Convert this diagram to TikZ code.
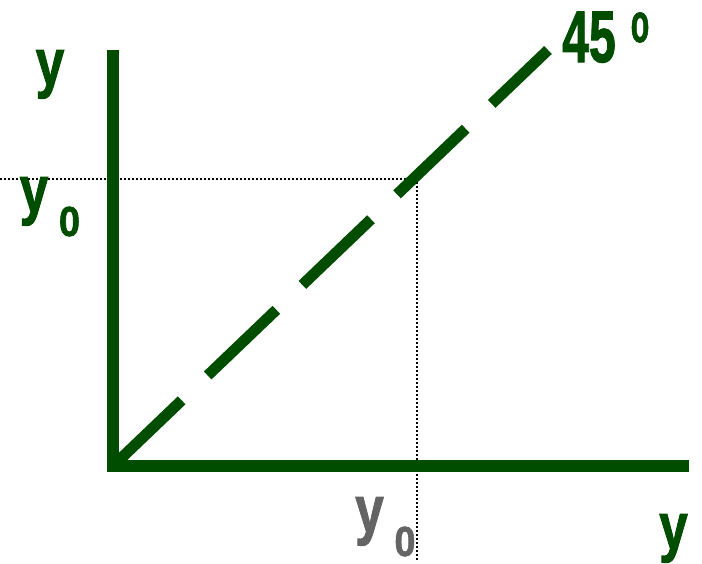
\documentclass[tikz,border=0pt]{standalone}
\usepackage{fontspec}
\usepackage{graphicx}
\setmainfont{Liberation Sans}
\newfontfamily\heavyfont[FakeBold=1.6]{Liberation Sans Bold}
\definecolor{axisgreen}{RGB}{0,77,0}
\definecolor{labelgray}{RGB}{100,100,100}

\begin{document}
\begin{tikzpicture}[x=1pt, y=-1pt,
    axis/.style={line width=12pt, axisgreen},
    guide/.style={line width=2pt, dash pattern=on 2pt off 2pt},
    diag/.style={line width=11pt, axisgreen, dash pattern=on 95pt off 36pt},
    letter/.style={inner sep=0pt, anchor=base, font=\heavyfont\fontsize{66}{66}\selectfont},
    index/.style={inner sep=0pt, anchor=base, font=\heavyfont\fontsize{42}{42}\selectfont}]
    \useasboundingbox (0,0) rectangle (702,563);

    % axes
    \coordinate (O) at (113,466);
    \coordinate (ytip) at (113,50);
    \coordinate (xtip) at (689,466);
    \coordinate (yleft) at (0,179);
    \coordinate (P) at (417,179);
    \coordinate (xfoot) at (417,561);
    \coordinate (dtip) at (548,50);

    \draw[guide] (yleft) -- (P) -- (xfoot);

    \draw[axis] (O) -- (ytip);
    \draw[axis] ([xshift=-6pt]O) -- (xtip);
    \draw[diag] (O) -- (dtip);

    % labels
    \node[letter, axisgreen] (ytop) at (50,85) {\scalebox{0.78}[1]{y}};
    \node[letter, axisgreen] (yzero) at (34,212) {\scalebox{0.78}[1]{y}};
    \node[index, axisgreen] (yzerosub) at (69.5,236) {\scalebox{0.9}[1]{0}};
    \node[letter, labelgray] (xzero) at (369.5,532) {\scalebox{0.78}[1]{y}};
    \node[index, labelgray] (xzerosub) at (405,556) {\scalebox{0.9}[1]{0}};
    \node[letter, axisgreen] (xright) at (673.5,549) {\scalebox{0.78}[1]{y}};
    \node[inner sep=0pt, anchor=base, axisgreen, font=\heavyfont\fontsize{73}{73}\selectfont]
        (angle) at (589,62) {\scalebox{0.66}[1]{45}};
    \node[inner sep=0pt, anchor=base, axisgreen, font=\heavyfont\fontsize{55}{55}\selectfont]
        (degree) at (640,42) {\scalebox{0.55}[1]{o}};
\end{tikzpicture}
\end{document}
